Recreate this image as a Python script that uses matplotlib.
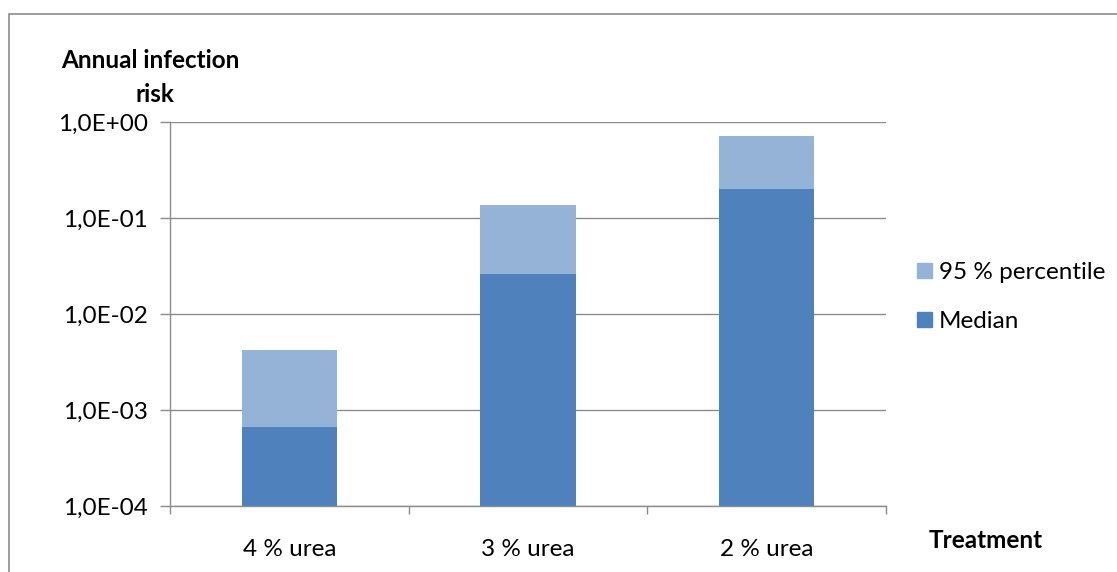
import matplotlib
matplotlib.use("Agg")
import matplotlib.pyplot as plt
from matplotlib.patches import Rectangle, Patch
import numpy as np

categories = ["4 % urea", "3 % urea", "2 % urea"]
median = [6.6e-4, 2.6e-2, 2.0e-1]
p95 = [4.2e-3, 1.36e-1, 7.1e-1]
tick_values = [1e-4, 1e-3, 1e-2, 1e-1, 1e0]
tick_labels = ["1,0E-04", "1,0E-03", "1,0E-02", "1,0E-01", "1,0E+00"]

plt.rcParams['font.family'] = ['Lato', 'DejaVu Sans']
FS = 17.5

W, H = 1117, 572
fig = plt.figure(figsize=(W / 100, H / 100), dpi=100)

# outer chart frame
fig.patches.append(Rectangle((9 / W, -0.1), 1.2, 1 - 14 / H + 0.1, transform=fig.transFigure,
                             fill=False, edgecolor="#8c8c8c", linewidth=1.2))

ax = fig.add_axes([170 / W, 1 - 506 / H, (886 - 170) / W, (506 - 122) / H])
x = np.arange(len(categories))
ax.set_yscale("log")
ax.set_ylim(1e-4, 1e0)
ax.set_xlim(-0.5, len(categories) - 0.5)

c95 = "#95B3D7"
cmed = "#4F81BD"
ax.bar(x, np.array(p95) - 1e-4, bottom=1e-4, width=0.4, color=c95, zorder=2)
ax.bar(x, np.array(median) - 1e-4, bottom=1e-4, width=0.4, color=cmed, zorder=3)

ax.set_yticks(tick_values)
ax.set_yticklabels(tick_labels)
ax.yaxis.set_minor_locator(matplotlib.ticker.NullLocator())
ax.grid(axis="y", color="#8c8c8c", linewidth=1.0, zorder=1)
ax.set_axisbelow(True)

ax.set_xticks(x)
ax.set_xticklabels(categories)
ax.set_xticks(np.arange(-0.5, len(categories)), minor=True)
ax.tick_params(axis="x", which="major", length=0, pad=24, labelsize=FS)
ax.tick_params(axis="x", which="minor", length=6, color="#8c8c8c", width=1)
ax.tick_params(axis="y", length=7, color="#8c8c8c", width=1, labelsize=FS, pad=9)

for s in ["top", "right"]:
    ax.spines[s].set_visible(False)
for s in ["left", "bottom"]:
    ax.spines[s].set_color("#8c8c8c")
    ax.spines[s].set_linewidth(1.0)

fig.text(150 / W, 1 - 60 / H, "Annual infection", ha="center", va="center",
         fontsize=FS, fontweight="bold")
fig.text(155 / W, 1 - 94 / H, "risk", ha="center", va="center",
         fontsize=FS, fontweight="bold")
fig.text(986 / W, 1 - 541 / H, "Treatment", ha="center", va="center",
         fontsize=FS, fontweight="bold")

handles = [Patch(color=c95, label="95 % percentile"), Patch(color=cmed, label="Median")]
fig.legend(handles=handles, loc="center left", bbox_to_anchor=(917 / W, 1 - 297 / H),
           frameon=False, fontsize=FS, handlelength=0.6, handleheight=0.6,
           handletextpad=0.3, labelspacing=1.15, borderpad=0, borderaxespad=0)

fig.savefig("out.png", dpi=100)
